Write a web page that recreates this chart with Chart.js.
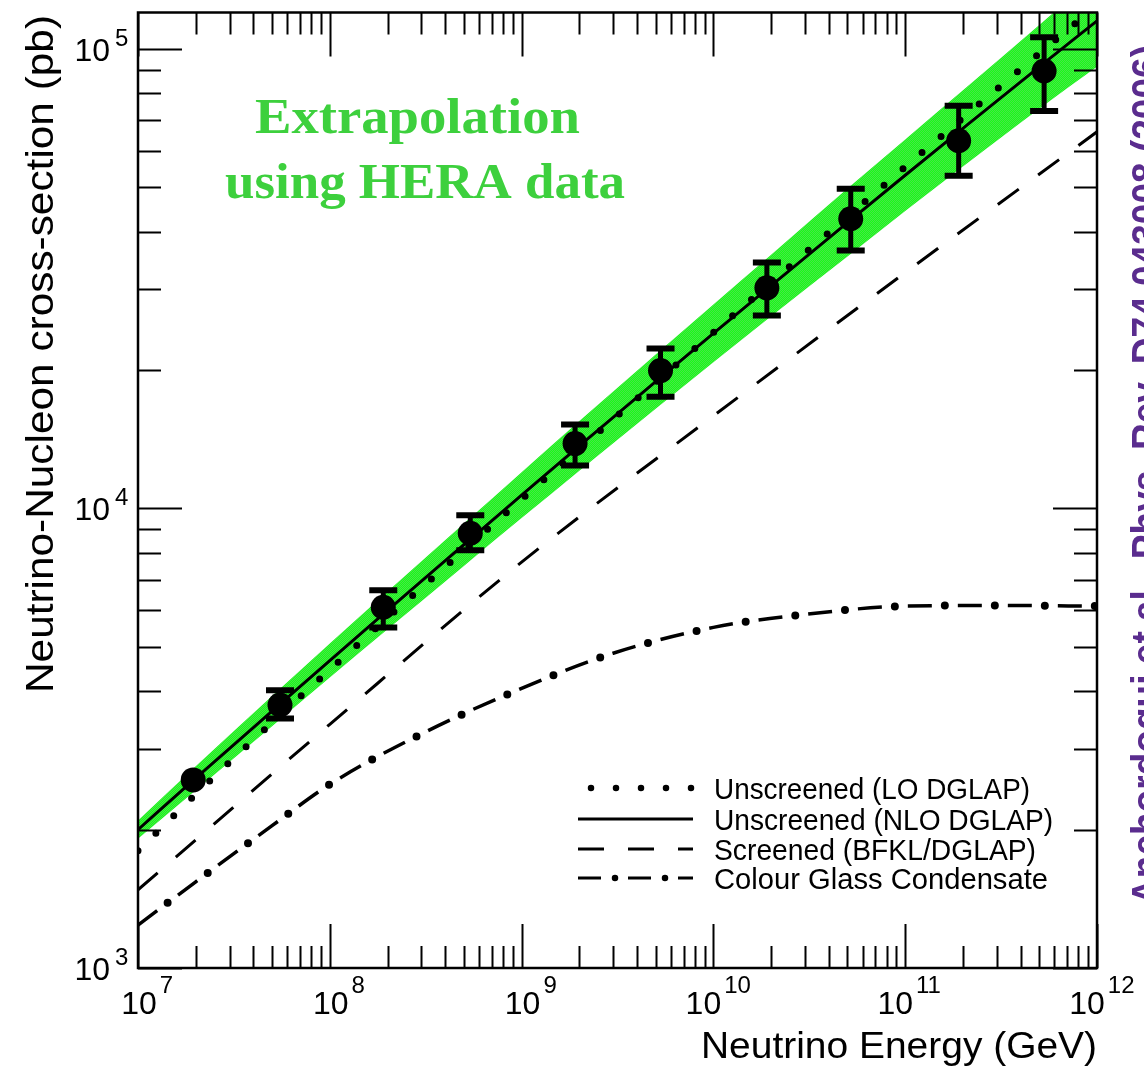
<!DOCTYPE html>
<html>
<head>
<meta charset="utf-8">
<title>Neutrino-Nucleon cross-section</title>
<script src="https://cdn.jsdelivr.net/npm/chart.js@4.4.1/dist/chart.umd.min.js"></script>
<style>
  html, body { margin: 0; padding: 0; background: #fff; }
  #wrap { width: 1144px; height: 1069px; position: relative; overflow: hidden; }
</style>
</head>
<body>
<div id="wrap"><canvas id="xsec" width="1144" height="1069"></canvas></div>
<script>
// curve grid (GeV)
const energy = [1e7, 2e7, 5e7, 1e8, 2e8, 5e8, 1e9, 2e9, 5e9, 1e10, 2e10, 5e10, 1e11, 2e11, 5e11, 1e12];
// cross-sections in pb
const nloDglap = [2000, 2588, 3622, 4667, 5998, 8337, 10690, 13680, 18880, 24040, 30550, 41880, 53090, 67140, 91410, 115100];
const loDglap = [1799, 2388, 3420, 4457, 5781, 8110, 10470, 13490, 18790, 24150, 31040, 43150, 55340, 70790, 97720, 124500];
const bandHigh = [2094, 2748, 3908, 5082, 6592, 9268, 11995, 15490, 21630, 27800, 35650, 49660, 63530, 81280, 112700, 144900];
const bandLow = [1910, 2438, 3357, 4285, 5458, 7499, 9528, 12080, 16480, 20800, 26180, 35320, 44360, 55460, 74130, 91410];

const screenedE = [1e7, 1e8, 1e9, 1e10, 1e11, 1e12];
const screened = [1480, 3390, 7640, 15900, 32600, 66000];

const cgcE = [1e7, 2e7, 5e7, 1e8, 3e8, 1e9, 3e9, 1e10, 3e10, 1e11, 3e11, 1e12];
const cgc = [1240, 1540, 2040, 2510, 3230, 4060, 4840, 5510, 5880, 6130, 6150, 6130];

// extrapolated points with error bars
const dataE = [1.94e7, 5.5e7, 1.9e8, 5.4e8, 1.9e9, 5.3e9, 1.9e10, 5.2e10, 1.9e11, 5.3e11];
const dataSigma = [2566, 3735, 6095, 8830, 13840, 19950, 30200, 42700, 63100, 89500];
const errLow = [null, 3490, 5510, 8110, 12400, 17500, 26300, 36400, 52960, 73300];
const errHigh = [null, 4020, 6640, 9660, 15230, 22300, 34300, 49600, 75200, 106000];

const xDecades = [7, 8, 9, 10, 11, 12];
const yDecades = [3, 4, 5];

const legendItems = ['Unscreened (LO DGLAP)', 'Unscreened (NLO DGLAP)', 'Screened (BFKL/DGLAP)', 'Colour Glass Condensate'];

const pts = (xs, ys) => xs.map((x, i) => ({ x: x, y: ys[i] }));

// dithered green for the HERA band
function greenPattern() {
    const c = document.createElement('canvas');
    c.width = 2; c.height = 2;
    const g = c.getContext('2d');
    g.fillStyle = '#18fb18'; g.fillRect(0, 0, 2, 2);
    g.fillStyle = '#48e448'; g.fillRect(0, 0, 1, 1); g.fillRect(1, 1, 1, 1);
    return g.createPattern(c, 'repeat');
}

// draw text squeezed/stretched to a given width
function fitText(ctx, text, x, y, w, font) {
    ctx.font = font;
    const m = ctx.measureText(text).width;
    ctx.save();
    ctx.translate(x, y);
    ctx.scale(w / m, 1);
    ctx.textAlign = 'left';
    ctx.fillText(text, 0, 0);
    ctx.restore();
}

const errorBars = {
    id: 'errorBars',
    afterDatasetsDraw(chart) {
        const { ctx, scales: { x, y } } = chart;
        ctx.save();
        ctx.strokeStyle = '#000';
        ctx.lineCap = 'butt';
        dataE.forEach((e, i) => {
            if (errLow[i] === null) return;
            const px = x.getPixelForValue(e);
            const lo = y.getPixelForValue(errLow[i]);
            const hi = y.getPixelForValue(errHigh[i]);
            ctx.lineWidth = 5;
            ctx.beginPath(); ctx.moveTo(px, lo); ctx.lineTo(px, hi); ctx.stroke();
            ctx.lineWidth = 6;
            ctx.beginPath();
            ctx.moveTo(px - 14, lo); ctx.lineTo(px + 14, lo);
            ctx.moveTo(px - 14, hi); ctx.lineTo(px + 14, hi);
            ctx.stroke();
        });
        ctx.restore();
    },
};

const frame = {
    id: 'frame',
    afterDraw(chart) {
        const { ctx, chartArea: a, scales: { x, y } } = chart;
        ctx.save();
        ctx.strokeStyle = '#000';
        ctx.fillStyle = '#000';

        // ticks, all pointing inward
        ctx.lineWidth = 2;
        ctx.beginPath();
        xDecades.forEach(d => {
            for (let k = 1; k <= 9; k++) {
                const v = k * Math.pow(10, d);
                if (v > x.max * 1.0001) break;
                const px = Math.round(x.getPixelForValue(v)) + 0.5;
                const len = k === 1 ? 44 : 22;
                ctx.moveTo(px, a.bottom); ctx.lineTo(px, a.bottom - len);
                ctx.moveTo(px, a.top); ctx.lineTo(px, a.top + len);
            }
        });
        yDecades.forEach(d => {
            for (let k = 1; k <= 9; k++) {
                const v = k * Math.pow(10, d);
                if (v > y.max) break;
                const py = Math.round(y.getPixelForValue(v)) + 0.5;
                const len = k === 1 ? 44 : 23;
                ctx.moveTo(a.left, py); ctx.lineTo(a.left + len, py);
                ctx.moveTo(a.right, py); ctx.lineTo(a.right - len, py);
            }
        });
        ctx.stroke();

        ctx.lineWidth = 2.5;
        ctx.strokeRect(a.left, a.top, a.right - a.left, a.bottom - a.top);

        // tick labels 10^n
        ctx.textBaseline = 'alphabetic';
        yDecades.forEach(d => {
            const py = y.getPixelForValue(Math.pow(10, d));
            ctx.font = '32px "Liberation Sans", Arial, sans-serif';
            ctx.textAlign = 'right';
            ctx.fillText('10', 110, py + 12);
            ctx.font = '24px "Liberation Sans", Arial, sans-serif';
            ctx.textAlign = 'left';
            ctx.fillText(String(d), 115, py - 3);
        });
        xDecades.forEach(d => {
            const px = x.getPixelForValue(Math.pow(10, d));
            const cx = px + (d >= 10 ? -10 : 1);
            ctx.font = '32px "Liberation Sans", Arial, sans-serif';
            const w = ctx.measureText('10').width;
            ctx.textAlign = 'center';
            ctx.fillText('10', cx, 1014);
            ctx.font = '24px "Liberation Sans", Arial, sans-serif';
            ctx.textAlign = 'left';
            ctx.fillText(String(d), cx + w / 2 + 3, 993);
        });

        // axis titles
        fitText(ctx, 'Neutrino Energy (GeV)', 701, 1058, 396, '37px "Liberation Sans", Arial, sans-serif');
        ctx.save();
        ctx.translate(53, 693);
        ctx.rotate(-Math.PI / 2);
        fitText(ctx, 'Neutrino-Nucleon cross-section (pb)', 0, 0, 678, '39px "Liberation Sans", Arial, sans-serif');
        ctx.restore();

        // legend
        const rows = [788, 819, 849, 878];
        const widths = [316, 339, 322, 334];
        const x0 = 578, x1 = 693;
        ctx.lineWidth = 3;
        // dotted
        ctx.save();
        ctx.lineCap = 'round'; ctx.lineWidth = 6.5;
        ctx.setLineDash([0, 25]); ctx.lineDashOffset = -13;
        ctx.beginPath(); ctx.moveTo(x0, rows[0]); ctx.lineTo(x1, rows[0]); ctx.stroke();
        ctx.restore();
        // solid
        ctx.beginPath(); ctx.moveTo(x0, rows[1]); ctx.lineTo(x1, rows[1]); ctx.stroke();
        // dashed
        ctx.save();
        ctx.setLineDash([26, 24]);
        ctx.beginPath(); ctx.moveTo(x0, rows[2]); ctx.lineTo(x1, rows[2]); ctx.stroke();
        ctx.restore();
        // dash-dot
        ctx.save();
        ctx.setLineDash([23, 27]);
        ctx.beginPath(); ctx.moveTo(x0, rows[3]); ctx.lineTo(x1, rows[3]); ctx.stroke();
        ctx.lineCap = 'round'; ctx.lineWidth = 6.5;
        ctx.setLineDash([0, 50]); ctx.lineDashOffset = -37;
        ctx.beginPath(); ctx.moveTo(x0, rows[3]); ctx.lineTo(x1, rows[3]); ctx.stroke();
        ctx.restore();
        legendItems.forEach((t, i) => {
            fitText(ctx, t, 714, rows[i] + 11, widths[i], '29px "Liberation Sans", Arial, sans-serif');
        });

        // green annotation
        ctx.fillStyle = '#3dd03d';
        fitText(ctx, 'Extrapolation', 255, 133, 325, 'bold 50px "Liberation Serif", "Times New Roman", serif');
        fitText(ctx, 'using HERA data', 225, 198, 400, 'bold 50px "Liberation Serif", "Times New Roman", serif');

        // reference, cut by the right edge
        ctx.fillStyle = '#5a2c8e';
        ctx.save();
        ctx.translate(1160, 905);
        ctx.rotate(-Math.PI / 2);
        fitText(ctx, 'Anchordoqui et al., Phys. Rev. D74 043008 (2006)', 0, 0, 860, 'bold 40px "Liberation Sans", Arial, sans-serif');
        ctx.restore();

        ctx.restore();
    },
};

new Chart(document.getElementById('xsec'), {
    type: 'line',
    data: {
        datasets: [
            {
                type: 'scatter',
                data: pts(dataE, dataSigma),
                pointRadius: 12.5,
                pointBackgroundColor: '#000',
                pointBorderWidth: 0,
                showLine: false,
            },
            {
                data: pts(energy, nloDglap),
                borderColor: '#000', borderWidth: 3,
                pointRadius: 0, cubicInterpolationMode: 'monotone', fill: false,
            },
            {
                data: pts(energy, loDglap),
                borderColor: '#000', borderWidth: 7,
                borderDash: [0, 25], borderCapStyle: 'round',
                pointRadius: 0, cubicInterpolationMode: 'monotone', fill: false,
            },
            {
                data: pts(screenedE, screened),
                borderColor: '#000', borderWidth: 3,
                borderDash: [26, 24],
                pointRadius: 0, cubicInterpolationMode: 'monotone', fill: false,
            },
            {
                data: pts(cgcE, cgc),
                borderColor: '#000', borderWidth: 3.5,
                borderDash: [24, 26],
                pointRadius: 0, cubicInterpolationMode: 'monotone', fill: false,
            },
            {
                data: pts(cgcE, cgc),
                borderColor: '#000', borderWidth: 8,
                borderDash: [0, 50], borderDashOffset: 13, borderCapStyle: 'round',
                pointRadius: 0, cubicInterpolationMode: 'monotone', fill: false,
            },
            {
                data: pts(energy, bandHigh),
                borderWidth: 0, borderColor: 'rgba(0,0,0,0)',
                backgroundColor: greenPattern(),
                pointRadius: 0, cubicInterpolationMode: 'monotone', fill: '+1',
            },
            {
                data: pts(energy, bandLow),
                borderWidth: 0, borderColor: 'rgba(0,0,0,0)',
                pointRadius: 0, cubicInterpolationMode: 'monotone', fill: false,
            },
        ],
    },
    options: {
        responsive: false,
        animation: false,
        events: [],
        layout: { padding: { left: 138, right: 47, top: 11, bottom: 101 } },
        scales: {
            x: { type: 'logarithmic', min: 1e7, max: 1e12, display: false },
            y: { type: 'logarithmic', min: 1e3, max: 1.2e5, display: false },
        },
        plugins: {
            legend: { display: false },
            tooltip: { enabled: false },
        },
    },
    plugins: [errorBars, frame],
});
</script>
</body>
</html>
